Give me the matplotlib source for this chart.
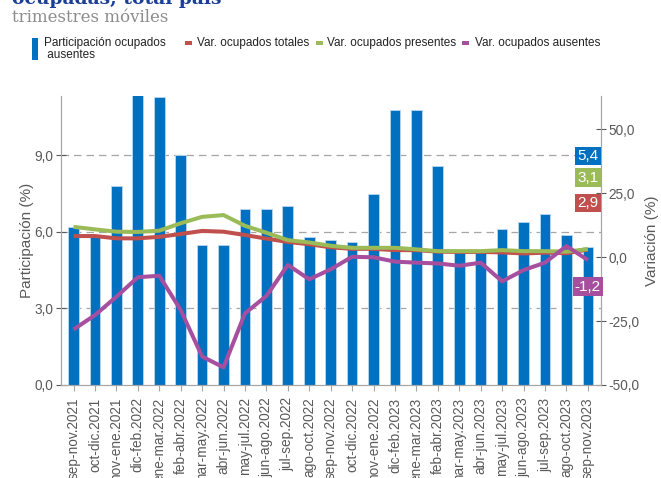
import matplotlib
matplotlib.use("Agg")
import matplotlib.pyplot as plt
from matplotlib.patches import Rectangle
import numpy as np

plt.rcParams['font.family'] = ['Liberation Sans', 'DejaVu Sans']

categories = ["sep-nov.2021", "oct-dic.2021", "nov-ene.2021", "dic-feb.2022", "ene-mar.2022",
              "feb-abr.2022", "mar-may.2022", "abr-jun.2022", "may-jul.2022", "jun-ago.2022",
              "jul-sep.2022", "ago-oct.2022", "sep-nov.2022", "oct-dic.2022", "nov-ene.2022",
              "dic-feb.2023", "ene-mar.2023", "feb-abr.2023", "mar-may.2023", "abr-jun.2023",
              "may-jul.2023", "jun-ago.2023", "jul-sep.2023", "ago-oct.2023", "sep-nov.2023"]

participacion = [6.2, 5.8, 7.8, 11.4, 11.3, 9.0, 5.5, 5.5, 6.9, 6.9, 7.0, 5.8, 5.7,
                 5.6, 7.5, 10.8, 10.8, 8.6, 5.2, 5.2, 6.1, 6.4, 6.7, 5.9, 5.4]

var_totales = [8.2, 8.2, 7.3, 7.3, 7.9, 9.0, 10.2, 9.9, 8.6, 7.2, 5.9, 5.0, 3.8,
               3.2, 3.2, 2.7, 2.7, 2.1, 2.0, 2.0, 1.8, 1.4, 1.7, 1.5, 2.9]

var_presentes = [11.8, 10.8, 9.9, 9.8, 10.3, 13.2, 15.7, 16.4, 12.2, 9.5, 6.6, 5.7, 4.4,
                 3.6, 3.6, 3.6, 3.0, 2.3, 2.3, 2.3, 2.7, 2.3, 2.3, 2.1, 3.1]

var_ausentes = [-28.3, -22.7, -15.5, -7.9, -7.3, -20.7, -38.9, -43.1, -22.0, -15.2, -3.1, -8.7, -4.8,
                0.1, -0.1, -1.8, -2.2, -2.5, -3.4, -2.2, -9.5, -5.1, -2.2, 4.3, -1.2]

left_ticks = [0.0, 3.0, 6.0, 9.0]
right_ticks = [-50.0, -25.0, 0.0, 25.0, 50.0]

c_bar = "#0070C0"
c_red = "#C0504D"
c_green = "#9BBB59"
c_purple = "#A64F9F"
c_grey = "#595959"
c_axis = "#A6A6A6"

def fmt(v):
    return f"{v:.1f}".replace(".", ",")

fig = plt.figure(figsize=(6.61, 4.78), dpi=100)
ax = fig.add_axes([0.0918, 0.1946, 0.817, 0.6044])
ax2 = ax.twinx()

x = np.arange(len(categories))
ax.bar(x, participacion, width=0.5, color=c_bar, edgecolor="#BDD7EE", linewidth=0.6, zorder=2)
ax.set_xlim(-0.6, len(categories) - 0.4)
ax.set_ylim(0, 11.33)
ax.set_yticks(left_ticks)
ax.set_yticklabels([fmt(t) for t in left_ticks])
for t in left_ticks:
    if t > 0:
        ax.axhline(t, color="#A6A6A6", linestyle=(0, (6, 4)), linewidth=0.9, zorder=1)

ax.set_xticks(x)
ax.set_xticklabels(categories, rotation=90, fontsize=9.8, color=c_grey, va="top")
ax.tick_params(axis="x", length=4, color=c_axis, pad=5)
ax.tick_params(axis="y", labelsize=9.8, labelcolor=c_grey, color=c_grey, direction="inout", length=7, pad=2)
ax.set_ylabel("Participación (%)", fontsize=11, color=c_grey, labelpad=0)

ax2.plot(x, var_totales, color=c_red, linewidth=2.9, zorder=3, solid_capstyle="butt")
ax2.plot(x, var_presentes, color=c_green, linewidth=2.9, zorder=3, solid_capstyle="butt")
ax2.plot(x, var_ausentes, color=c_purple, linewidth=2.9, zorder=4, solid_capstyle="butt")
ax2.set_ylim(-50, 62.9)
ax2.set_yticks(right_ticks)
ax2.set_yticklabels([fmt(t) for t in right_ticks])
ax2.tick_params(axis="y", labelsize=9.8, labelcolor=c_grey, color=c_grey, direction="inout", length=7, pad=2)
ax2.set_ylabel("Variación (%)", fontsize=11, color=c_grey, rotation=90, labelpad=4)

for a in (ax, ax2):
    a.spines["top"].set_visible(False)
    a.spines["left"].set_color(c_axis)
    a.spines["right"].set_color(c_axis)
    a.spines["bottom"].set_color(c_axis)

# end-value labels
last = len(categories) - 1
label_specs = [(participacion[-1], c_bar, 39.5), (var_presentes[-1], c_green, 31.0),
               (var_totales[-1], c_red, 21.1), (var_ausentes[-1], c_purple, -11.6)]
for val, col, ypos in label_specs:
    ax2.text(last, ypos, fmt(val), ha="center", va="center", fontsize=11, color="white", zorder=6,
             bbox=dict(boxstyle="square,pad=0.15", facecolor=col, edgecolor="none"))

# title
fig.text(0.018, 1.0 + 2/478, "ocupadas, total país", fontsize=13.5, fontweight="bold", color="#1B3F98",
         family=["DejaVu Serif"], ha="left", va="center")
fig.text(0.018, 1 - 18/478, "trimestres móviles", fontsize=12, color="#8C8C8C",
         family=["DejaVu Serif"], ha="left", va="center")

# legend (manual)
fig.patches.append(Rectangle((32/661, 1 - 60/478), 6/661, 22/478, transform=fig.transFigure,
                             facecolor=c_bar, edgecolor="none"))
fig.text(44/661, 1 - 43/478, "Participación ocupados", fontsize=8.5, color="#222222",
         ha="left", va="center")
fig.text(44/661, 1 - 55/478, " ausentes", fontsize=8.5, color="#222222",
         ha="left", va="center")
leg_items = [(185, 197, "Var. ocupados totales", c_red), (316, 327, "Var. ocupados presentes", c_green),
             (462, 475, "Var. ocupados ausentes", c_purple)]
for px, tx, txt, col in leg_items:
    fig.patches.append(Rectangle((px/661, 1 - 45/478), 7/661, 4/478, transform=fig.transFigure,
                                 facecolor=col, edgecolor="none"))
    fig.text(tx/661, 1 - 43/478, txt, fontsize=8.5, color="#222222", ha="left", va="center")

fig.savefig("out.png", dpi=100)
